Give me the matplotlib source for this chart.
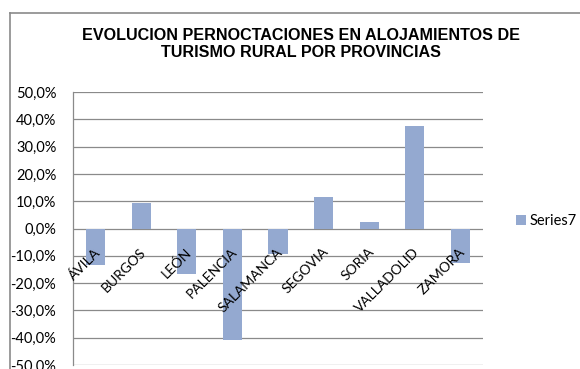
import matplotlib
matplotlib.use("Agg")
import matplotlib.pyplot as plt
from matplotlib.lines import Line2D

# overnight-stay change by province (%)
PROVINCIAS = ["ÁVILA", "BURGOS", "LEÓN", "PALENCIA", "SALAMANCA",
              "SEGOVIA", "SORIA", "VALLADOLID", "ZAMORA"]
EVOLUCION = [-13.2, 9.3, -16.6, -41.0, -9.5, 11.7, 2.2, 37.7, -12.7]
YTICKS = [-50, -40, -30, -20, -10, 0, 10, 20, 30, 40, 50]
SERIE = "Series7"
TITULO = "EVOLUCION PERNOCTACIONES EN ALOJAMIENTOS DE\nTURISMO RURAL POR PROVINCIAS"

BAR = "#94A9D0"
GRID = "#8A8A8A"
LABEL_FONT = ["Lato", "DejaVu Sans"]

fig = plt.figure(figsize=(5.8, 3.69), dpi=100)
W, H = 580, 369

# outer chart frame (top and left edges only visible)
fig.add_artist(Line2D([9.5 / W, 9.5 / W], [0, 1 - 12.5 / H], color=GRID, lw=1.2))
fig.add_artist(Line2D([9.5 / W, 1], [1 - 12.5 / H, 1 - 12.5 / H], color=GRID, lw=1.2))

ax = fig.add_axes([73 / W, 4 / H, (483 - 73) / W, (365 - 92) / H])
x = list(range(len(PROVINCIAS)))
ax.bar(x, EVOLUCION, width=0.42, color=BAR, zorder=3, label=SERIE)

ax.set_xlim(-0.5, len(PROVINCIAS) - 0.5)
ax.set_ylim(-50, 50)
ax.set_yticks(YTICKS)
ax.set_yticklabels([f"{v:.1f}%".replace(".", ",") for v in YTICKS],
                   fontsize=10.5, family=LABEL_FONT)
ax.tick_params(axis="y", length=0, pad=12)
ax.yaxis.grid(True, color=GRID, lw=0.9, zorder=0)
ax.set_xticks([])
for s in ["top", "right", "bottom"]:
    ax.spines[s].set_visible(False)
ax.spines["left"].set_color(GRID)
ax.spines["left"].set_linewidth(0.9)

# category names hang below the zero line, rotated
for xi, name in zip(x, PROVINCIAS):
    ax.text(xi - 0.03, -6.3, name, rotation=45, rotation_mode="anchor",
            ha="right", va="top", fontsize=10, family=LABEL_FONT, zorder=4)

fig.text(301 / W, 1 - 44 / H, TITULO, ha="center", va="center",
         fontsize=11.6, fontweight="bold", family="Liberation Sans",
         linespacing=1.2)

fig.legend(loc="center left", bbox_to_anchor=(516 / W, 1 - 221 / H),
           frameon=False, borderpad=0, borderaxespad=0,
           handlelength=0.7, handleheight=0.7,
           handletextpad=0.25, prop={"family": LABEL_FONT, "size": 10.5})

fig.savefig("out.png", dpi=100)
